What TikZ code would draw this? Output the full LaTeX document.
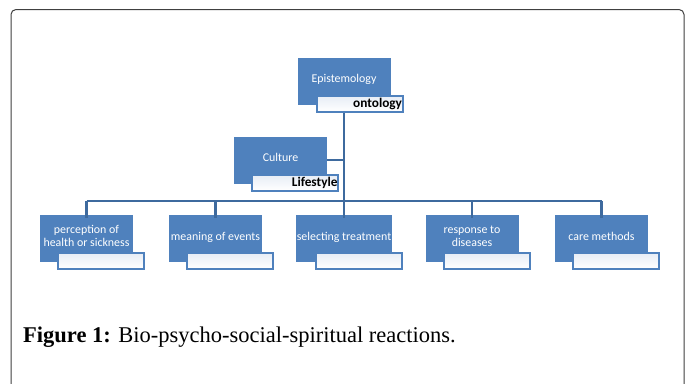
\documentclass[tikz,border=0pt]{standalone}
\usepackage{fontspec}
\setmainfont{Liberation Serif}
\newfontfamily\boxfont{Carlito}
\usepackage{tikz}
\usepackage{color}
\definecolor{boxblue}{HTML}{4F81BD}
\definecolor{lineblue}{HTML}{3E6A9E}
\definecolor{tagfill}{HTML}{E6ECF5}

\begin{document}
\begin{tikzpicture}[x=1pt, y=-1pt,
  main/.style = {fill=boxblue, minimum width=93pt, minimum height=47pt, inner sep=1pt,
    text=white, font=\boxfont\fontsize{11.9}{13.5}\selectfont, align=center},
  tag/.style = {draw=boxblue, line width=2pt, top color=tagfill, bottom color=white,
    minimum width=86pt, minimum height=16pt, inner sep=0.5pt,
    font=\boxfont\bfseries\fontsize{13.3}{14}\selectfont, text=black, align=right,
    text width=85pt},
  link/.style = {draw=lineblue, line width=2.2pt}]
  \useasboundingbox (0,0) rectangle (691,383);
  \fill[white] (0,0) rectangle (691,383);
  \draw[black!75, line width=1pt, rounded corners=5pt] (11,400) -- (11,9.5) -- (684,9.5) -- (684,400);

  % top of the tree
  \node[main] (epi) at (344,81) {\raisebox{6pt}{Epistemology}};
  \node[tag] (ont) at (359.5,103.5) {ontology};
  \node[main] (cul) at (280.5,160) {\raisebox{6pt}{Culture}};
  \node[tag] (life) at (295,182.5) {Lifestyle};

  % bottom row
  \node[main] (per) at (86.5,238.5) {\raisebox{5pt}{\shortstack{perception of\\health or sickness}}};
  \node[main] (mea) at (215.5,238.5) {\raisebox{5pt}{meaning of events}};
  \node[main] (sel) at (344,238.5) {\raisebox{5pt}{selecting treatment}};
  \node[main] (res) at (472,238.5) {\raisebox{5pt}{\shortstack{response to\\diseases}}};
  \node[main] (car) at (601.5,238.5) {\raisebox{5pt}{care methods}};
  \foreach \b/\t in {per/pertag, mea/meatag, sel/seltag, res/restag, car/cartag}
    \node[tag] (\t) at ([xshift=14.5pt, yshift=-22pt]\b.center) {};

  \coordinate (bar) at (344,201);
  \draw[link] (epi |- ont.south) -- (bar);
  \draw[link] (cul.east) -- (cul.east -| bar);
  \draw[link] (per.north |- bar) -- (car.north |- bar);
  \foreach \b in {per, mea, sel, res, car}
    \draw[link] (\b.north |- bar) -- ([yshift=-3pt]\b.north);

  \node[anchor=base west, inner sep=0pt, font=\fontsize{22.5}{26}\selectfont] (cap) at (23,342)
    {\textbf{Figure 1:} Bio-psycho-social-spiritual reactions.};
\end{tikzpicture}
\end{document}
